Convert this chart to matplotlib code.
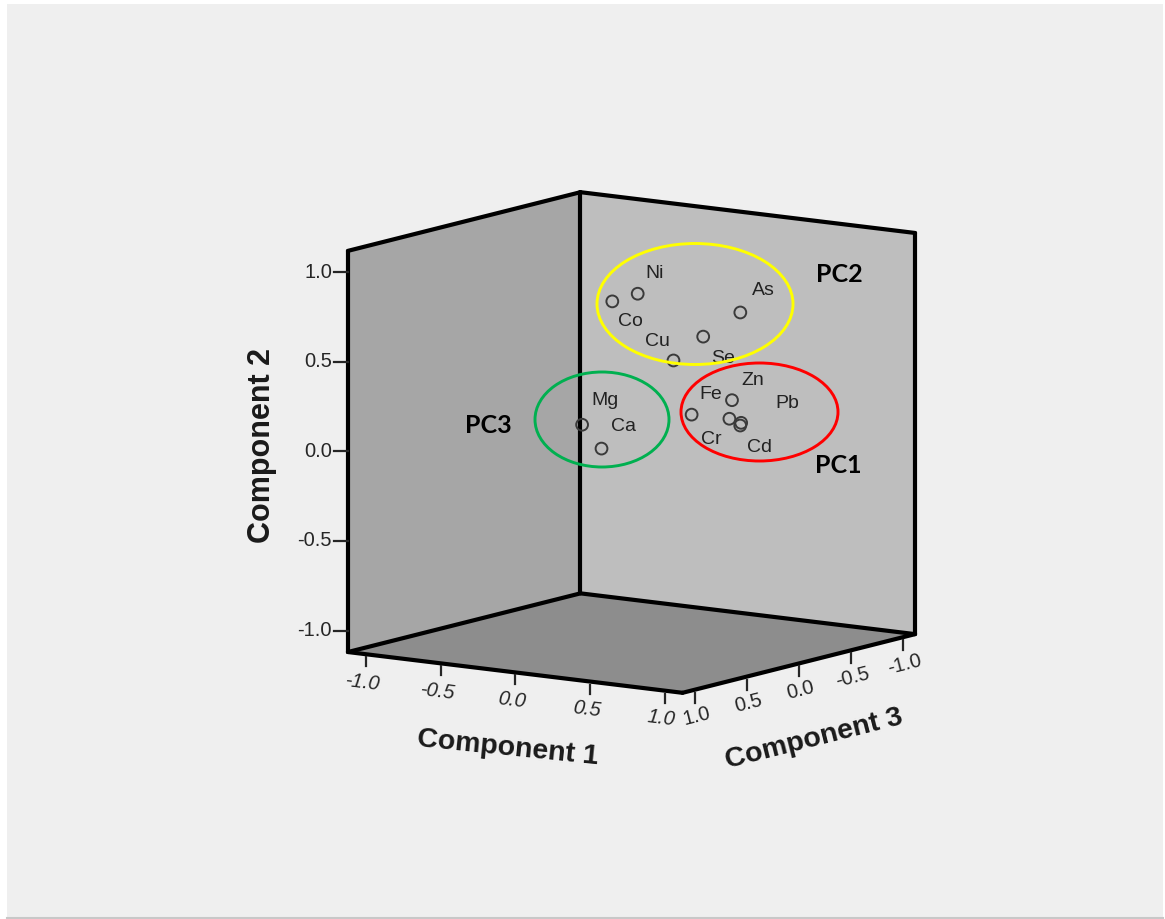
import numpy as np
import matplotlib
matplotlib.use("Agg")
import matplotlib.pyplot as plt
from matplotlib.patches import Ellipse, Rectangle
from matplotlib.lines import Line2D
from mpl_toolkits.mplot3d import proj3d

# ---------------- data (component loadings) ----------------
elements = ["Fe", "Zn", "Cr", "Pb", "Cd", "Ni", "Co", "As", "Se", "Cu", "Mg", "Ca"]
comp1 = [0.75, 0.85, 0.85, 0.88, 0.86, 0.25, 0.08, 0.52, 0.48, 0.42, 0.26, 0.39]
comp2 = [0.305, 0.36, 0.26, 0.23, 0.21, 0.90, 0.84, 0.735, 0.64, 0.53, 0.25, 0.13]
comp3 = [0.50, 0.255, 0.28, 0.21, 0.19, 0.30, 0.30, -0.30, 0.00, 0.20, 0.85, 0.85]
tick_values = [-1.0, -0.5, 0.0, 0.5, 1.0]
axis_titles = ["Component 1", "Component 2", "Component 3"]
group_names = ["PC1", "PC2", "PC3"]

# label placement (pixels right, pixels down) relative to each point
label_dx = [19, 21, -18, 46, 19.5, 17, 18, 23, 19.5, -16.5, 23, 22]
label_dy = [-20, -19.5, 21, -19, 21.5, -20, 20, -22, 22, -19, -24, -22]

plt.rcParams["font.family"] = ["Liberation Sans", "DejaVu Sans"]

W, H, DPI = 1165, 919, 100
fig = plt.figure(figsize=(W / DPI, H / DPI), dpi=DPI, facecolor="white")
fig.add_artist(Rectangle((7 / W, 1 - 917 / H), (1163 - 7) / W, (917 - 4) / H,
                         transform=fig.transFigure, facecolor="#efefef",
                         edgecolor="none", zorder=-10))
fig.add_artist(Line2D([7 / W, 1163 / W], [1 - 917.5 / H] * 2, transform=fig.transFigure,
                      color="#c8c8c8", lw=1.5, zorder=-9))

w0 = 0.6
ax = fig.add_axes([0.2, 0.1, w0, w0 * W / H], projection="3d")
ax.set_proj_type("ortho")
ELEV, AZIM = 10.1, -55.2
ax.view_init(elev=ELEV, azim=AZIM)
L = 1.12
ax.set_xlim(-L, L)
ax.set_ylim(-L, L)
ax.set_zlim(-L, L)
ax.set_box_aspect((1, 1, 1))
ax.set_facecolor((0, 0, 0, 0))
ax.grid(False)
for axis, col in ((ax.xaxis, "#a6a6a6"), (ax.yaxis, "#bebebe"), (ax.zaxis, "#8d8d8d")):
    axis.set_pane_color(col)
    axis.pane.set_edgecolor(col)
    axis.pane.set_linewidth(0)
    axis.line.set_color((0, 0, 0, 0))
    axis.set_ticks([])


def to_px(x, y, z):
    xs, ys, _ = proj3d.proj_transform(np.atleast_1d(np.asarray(x, float)),
                                      np.atleast_1d(np.asarray(y, float)),
                                      np.atleast_1d(np.asarray(z, float)), ax.get_proj())
    return ax.transData.transform(np.column_stack([xs, ys]))


corners = np.array([[a, b, c] for a in (-L, L) for b in (-L, L) for c in (-L, L)])
TX0, TX1, TY0, TY1 = 347, 916, 193, 692

# fit the cube into the target area (layout only)
fig.canvas.draw()
d = to_px(corners[:, 0], corners[:, 1], corners[:, 2])
xs, ys = d[:, 0], H - d[:, 1]
k = 0.5 * ((TX1 - TX0) / np.ptp(xs) + (TY1 - TY0) / np.ptp(ys))
pos = ax.get_position()
cx, cy = pos.x0 + pos.width / 2, pos.y0 + pos.height / 2
nw, nh = pos.width * k, pos.height * k
ax.set_position([cx - nw / 2, cy - nh / 2, nw, nh])
fig.canvas.draw()
d = to_px(corners[:, 0], corners[:, 1], corners[:, 2])
xs, ys = d[:, 0], H - d[:, 1]
dxp = (TX0 + TX1) / 2 - (xs.min() + xs.max()) / 2
dyp = (TY0 + TY1) / 2 - (ys.min() + ys.max()) / 2
pos = ax.get_position()
ax.set_position([pos.x0 + dxp / W, pos.y0 - dyp / H, pos.width, pos.height])
fig.canvas.draw()

az, el = np.radians(AZIM), np.radians(ELEV)
rvec = np.array([-np.sin(az), np.cos(az), 0.0])
o = to_px(0, 0, 0)[0]
s_h = np.hypot(*(to_px(*rvec)[0] - o))
s_v = np.hypot(*(to_px(0, 0, 1)[0] - o))


def shift(p, dx, dy):
    p = np.asarray(p, float)
    return p + rvec * dx / s_h - np.array([0, 0, 1.0]) * dy / s_v


def put_text(p3, dx, dy, s, **kw):
    q = to_px(*p3)[0]
    fig.text((q[0] + dx) / W, (q[1] - dy) / H, s, **kw)


# cube edges
edges = [((-L, -L, -L), (-L, -L, L)), ((-L, L, -L), (-L, L, L)), ((L, L, -L), (L, L, L)),
         ((-L, -L, L), (-L, L, L)), ((-L, L, L), (L, L, L)),
         ((-L, -L, -L), (-L, L, -L)), ((-L, L, -L), (L, L, -L)),
         ((-L, -L, -L), (L, -L, -L)), ((L, -L, -L), (L, L, -L))]
for a, b in edges:
    ax.plot([a[0], b[0]], [a[1], b[1]], [a[2], b[2]], color="black", lw=3.0,
            solid_capstyle="round", solid_joinstyle="round")

tick_col = "#262626"
# Component 2 (vertical)
for t in tick_values:
    p = np.array([-L, -L, t])
    q = shift(p, -14, 0)
    ax.plot([p[0], q[0]], [p[1], q[1]], [p[2], q[2]], color=tick_col, lw=1.6)
    put_text(q, -2, 0, f"{t:.1f}", ha="right", va="center", fontsize=14.5, color=tick_col)

# angles of the floor edges on screen
d1 = to_px(1, 0, 0)[0] - o
d3 = to_px(0, 1, 0)[0] - o
ang1 = np.degrees(np.arctan2(d1[1], d1[0]))
ang3 = np.degrees(np.arctan2(d3[1], d3[0]))

# Component 1 (front-left floor edge)
for t in tick_values:
    p = np.array([t, -L, -L])
    a, b = shift(p, 0, 3), shift(p, 0, 12)
    ax.plot([a[0], b[0]], [a[1], b[1]], [a[2], b[2]], color=tick_col, lw=1.6)
    put_text(b, -3, 16, f"{t:.1f}", ha="center", va="center", fontsize=14.5,
             color=tick_col, style="italic", rotation=ang1, rotation_mode="anchor")

# Component 3 (front-right floor edge); y axis holds -Component 3
for t in tick_values:
    p = np.array([L, -t, -L])
    a, b = shift(p, 0, 3), shift(p, 0, 13)
    ax.plot([a[0], b[0]], [a[1], b[1]], [a[2], b[2]], color=tick_col, lw=1.6)
    put_text(b, 2, 14, f"{t:.1f}", ha="center", va="center", fontsize=14.5,
             color=tick_col, rotation=ang3, rotation_mode="anchor")

title_kw = dict(fontweight="bold", color="#1a1a1a", ha="center", va="center",
                rotation_mode="anchor")
put_text((0, -L, -L), -7, 76, axis_titles[0], rotation=ang1 + 1.2, fontsize=20.5, **title_kw)
put_text((-L, -L, 0), -86, -6, axis_titles[1], rotation=90, fontsize=22, **title_kw)
put_text((L, 0, -L), 15, 76, axis_titles[2], rotation=ang3, fontsize=20.5, **title_kw)

# points
c3neg = -np.asarray(comp3)
ax.scatter(comp1, c3neg, comp2, s=72, facecolors="none", edgecolors="#3a3a3a",
           linewidths=1.4, depthshade=False)
for name, x, y, z, dx, dy in zip(elements, comp1, c3neg, comp2, label_dx, label_dy):
    put_text((x, y, z), dx, dy, name, ha="center", va="center", fontsize=14, color="#222222")

# group ellipses and labels (annotation layer in pixels)
ellipses = [((759.5, 412), 157, 98, "#ff0000"),
            ((695, 304), 196, 121, "#ffff00"),
            ((602, 419.5), 134, 95, "#00b050")]
for (ex, ey), ew, eh, col in ellipses:
    fig.add_artist(Ellipse((ex / W, 1 - ey / H), ew / W, eh / H, transform=fig.transFigure,
                           fill=False, edgecolor=col, lw=2.1, zorder=5))
group_pos = [(838, 466), (839.5, 275), (488, 426)]
for name, (gx, gy) in zip(group_names, group_pos):
    fig.text(gx / W, 1 - gy / H, name, ha="center", va="center", fontsize=18,
             fontweight="bold", family=["Lato", "DejaVu Sans"], color="black", zorder=6)

fig.savefig("out.png", dpi=DPI, facecolor="white")
